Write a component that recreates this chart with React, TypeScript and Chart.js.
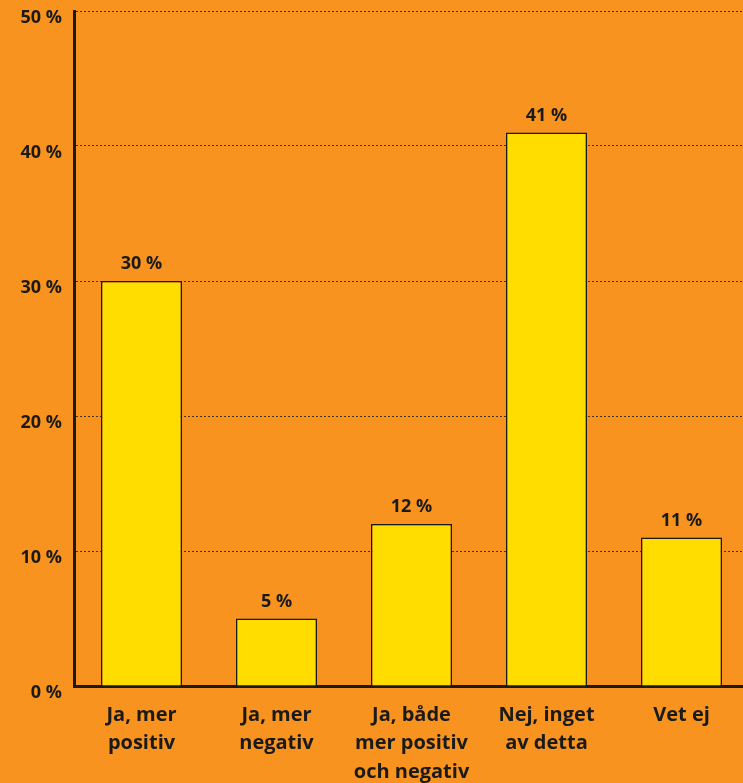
import React, { useEffect, useRef } from "react";
import { Chart, registerables } from "chart.js";

Chart.register(...registerables);

const categories: string[][] = [
  ["Ja, mer", "positiv"],
  ["Ja, mer", "negativ"],
  ["Ja, både", "mer positiv", "och negativ"],
  ["Nej, inget", "av detta"],
  ["Vet ej"],
];
const values: number[] = [30, 5, 12, 41, 11];
const yTickValues: number[] = [0, 10, 20, 30, 40, 50];

const BG = "#F7931E";
const BAR = "#FFDD00";
const INK = "#1a1a1a";
const FONT = "'Open Sans', 'Noto Sans', sans-serif";

const valueLabels = {
  id: "valueLabels",
  afterDatasetsDraw(chart: any) {
    const ctx = chart.ctx;
    const meta = chart.getDatasetMeta(0);
    ctx.save();
    ctx.fillStyle = INK;
    ctx.font = `bold 18px ${FONT}`;
    ctx.textAlign = "center";
    ctx.textBaseline = "alphabetic";
    meta.data.forEach((el: any, i: number) => {
      ctx.fillText(`${values[i]} %`, el.x, el.y - 12);
    });
    ctx.restore();
  },
};

export default function App() {
  const ref = useRef<HTMLCanvasElement | null>(null);
  useEffect(() => {
    if (!ref.current) return;
    const chart = new Chart(ref.current, {
      type: "bar",
      data: {
        labels: categories,
        datasets: [
          {
            data: values,
            backgroundColor: BAR,
            borderColor: INK,
            borderWidth: 1.5,
            barPercentage: 0.6,
            categoryPercentage: 1,
          },
        ],
      },
      options: {
        responsive: false,
        animation: false,
        layout: { padding: { top: 11, right: 0, left: 0, bottom: 0 } },
        plugins: { legend: { display: false }, tooltip: { enabled: false } },
        scales: {
          x: {
            grid: { display: false, drawTicks: false },
            border: { display: true, color: INK, width: 3 },
            ticks: {
              color: INK,
              font: { family: FONT, weight: "bold", size: 20, lineHeight: 1.42 },
              padding: 15,
              maxRotation: 0,
              autoSkip: false,
            },
            afterFit(scale: any) {
              scale.height = 97;
              scale.paddingLeft = 0;
              scale.paddingRight = 0;
            },
          },
          y: {
            min: 0,
            max: 50,
            afterBuildTicks(scale: any) {
              scale.ticks = yTickValues.map((v) => ({ value: v }));
            },
            grid: {
              drawTicks: false,
              color: (c: any) => (c.tick && c.tick.value === 0 ? "rgba(0,0,0,0)" : "#4a300c"),
              lineWidth: 1,
            },
            border: { display: true, color: INK, width: 3, dash: [2, 2] },
            ticks: {
              color: INK,
              font: { family: FONT, weight: "bold", size: 18 },
              padding: 12,
              labelOffset: 7,
              callback: (v: any) => `${v} %`,
            },
            afterFit(scale: any) {
              scale.width = 74;
              scale.paddingTop = 0;
              scale.paddingBottom = 0;
            },
          },
        },
      },
      plugins: [valueLabels],
    });
    return () => chart.destroy();
  }, []);
  return (
    <div
      style={{
        position: "absolute",
        left: 0,
        top: 0,
        width: 743,
        height: 783,
        overflow: "hidden",
        background: BG,
      }}
    >
      <canvas ref={ref} width={749} height={783} style={{ display: "block", width: 749, height: 783 }} />
    </div>
  );
}
